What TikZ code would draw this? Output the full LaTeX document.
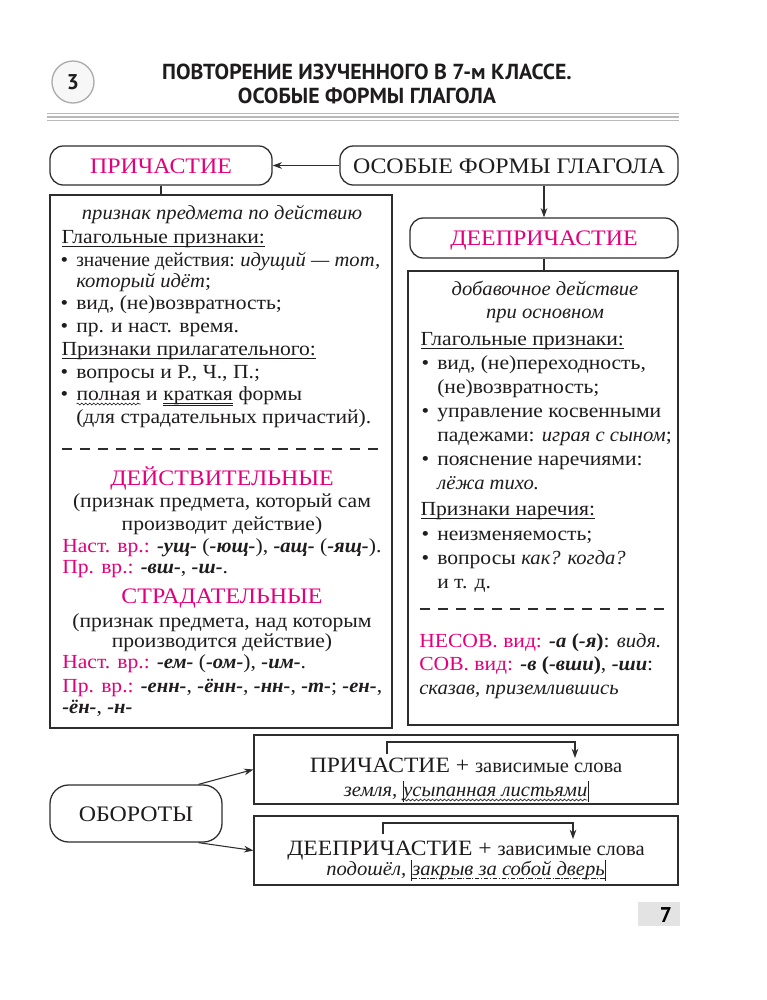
\documentclass[tikz,border=0pt]{standalone}
\usepackage{fontspec}
\setmainfont{Liberation Serif}[UprightFeatures={FakeStretch=1.08},BoldFeatures={FakeStretch=1.08},ItalicFeatures={FakeStretch=1.03},BoldItalicFeatures={FakeStretch=1.03}]
\newfontfamily\hdr{PT Sans}
\usetikzlibrary{arrows.meta,fit,decorations.pathmorphing}
\definecolor{pk}{RGB}{228,0,124}
\definecolor{ink}{RGB}{30,28,28}
\definecolor{lnc}{RGB}{45,45,45}
\newcommand\bt[1]{\textbf{\textit{#1}}}
\newcommand\bul{\llap{•\hspace{6pt}}}
\newcommand\phrbar{\rule[-4.5pt]{0.4pt}{16pt}}
\newcommand\ulx[2][]{\tikz[baseline=(u.base)]{\node[inner sep=0pt,outer sep=0pt,anchor=base] (u) at (0,0) {#2};
  \draw[draw=ink,line width=0.5pt,#1] ([yshift=-2.6pt]u.base west) -- ([yshift=-2.6pt]u.base east);}}
\newcommand\uwv[1]{\tikz[baseline=(u.base)]{\node[inner sep=0pt,outer sep=0pt,anchor=base] (u) at (0,0) {#1};
  \draw[draw=ink,line width=0.45pt,decorate,decoration={snake,amplitude=0.7pt,segment length=3pt}] ([yshift=-3pt]u.base west) -- ([yshift=-3pt]u.base east);}}
\newcommand\uul[1]{\tikz[baseline=(u.base)]{\node[inner sep=0pt,outer sep=0pt,anchor=base] (u) at (0,0) {#1};
  \draw[draw=ink,line width=0.45pt] ([yshift=-2.3pt]u.base west) -- ([yshift=-2.3pt]u.base east)
     ([yshift=-3.7pt]u.base west) -- ([yshift=-3.7pt]u.base east);}}
\begin{document}
\begin{tikzpicture}[x=0.75pt,y=-0.75pt,
  every node/.style={text=ink},
  bodyf/.style={font=\fontsize{15}{18}\selectfont},
  txt/.style={bodyf, anchor=base west, inner sep=0pt},
  ctxt/.style={bodyf, anchor=base, inner sep=0pt},
  head/.style={font=\fontsize{16.6}{18}\selectfont, anchor=base, inner sep=0pt},
  rbox/.style={draw=lnc, line width=0.95pt, rounded corners=10pt, inner sep=0pt},
  sbox/.style={draw=lnc, line width=0.95pt, inner sep=0pt},
  arr/.style={draw=lnc, line width=0.8pt, -{Stealth[length=7pt,width=5pt]}},
  conn/.style={draw=lnc, line width=0.8pt},
  dsh/.style={draw=lnc, line width=0.8pt, dash pattern=on 7.5pt off 6pt}]
\useasboundingbox (0,0) rectangle (767,1000);
\fill[white] (0,0) rectangle (767,1000);

% header
\node[circle, draw=gray!65, line width=1pt, fill=gray!6, minimum size=42*0.75pt, inner sep=0pt,
      font=\hdr\bfseries\fontsize{16}{16}\selectfont] (num) at (73,82) {3};
\node[anchor=base, inner sep=0pt, font=\hdr\bfseries\fontsize{16.3}{16}\selectfont] (t1) at (367,79) {ПОВТОРЕНИЕ ИЗУЧЕННОГО В 7-м КЛАССЕ.};
\node[anchor=base, inner sep=0pt, font=\hdr\bfseries\fontsize{16.3}{16}\selectfont] (t2) at (367,103) {ОСОБЫЕ ФОРМЫ ГЛАГОЛА};
\foreach \yy in {113.5,117,120.5}
  \draw[gray!55, line width=1.1pt] (47,\yy) -- (679,\yy);

% top boxes
\node[rbox, fit={(50,146)(272,185)}] (prich) {};
\node[head, text=pk] (prichT) at (prich.center |- 0,173) {ПРИЧАСТИЕ};
\node[rbox, fit={(340,146)(678,185)}] (osob) {};
\node[head] (osobT) at (osob.center |- 0,173) {ОСОБЫЕ ФОРМЫ ГЛАГОЛА};
\node[rbox, fit={(410,218)(678,258)}] (deepr) {};
\node[head, text=pk] (deeprT) at (deepr.center |- 0,245) {ДЕЕПРИЧАСТИЕ};
\node[sbox, fit={(50,195)(392,728)}] (lbox) {};
\node[sbox, fit={(408,271)(678,725)}] (rbox) {};

\draw[arr] (osob.west) -- (prich.east);
\draw[arr] (deepr.north |- osob.south) -- (deepr.north);
\draw[conn] (prich.south) -- (prich.south |- lbox.north);
\draw[conn] (deepr.south) -- (deepr.south |- rbox.north);

% left box
\node[ctxt] (l1) at (222,219) {\textit{признак предмета по действию}};
\node[txt] (l2) at (61,243) {\ulx{Глагольные признаки:}};
\node[txt] (l3) at (76,266) {\bul \scalebox{0.9}[1]{значение действия:} \textit{идущий — тот,}};
\node[txt] (l4) at (76,287) {\textit{который идёт};};
\node[txt] (l5) at (76,309) {\bul вид, (не)возвратность;};
\node[txt] (l6) at (76,332) {\bul пр. и наст. время.};
\node[txt] (l7) at (61,355) {\ulx{Признаки прилагательного:}};
\node[txt] (l8) at (76,378) {\bul вопросы и Р., Ч., П.;};
\node[txt] (l9) at (76,400) {\bul \uwv{полная} и \uul{краткая} формы};
\node[txt] (l10) at (76,423) {(для страдательных причастий).};
\coordinate (ld1) at (62,449);
\coordinate (ld2) at (384,449);
\draw[dsh] (ld1) -- (ld2);
\node[head, text=pk] (l11) at (222,485) {ДЕЙСТВИТЕЛЬНЫЕ};
\node[ctxt] (l12) at (222,507) {(признак предмета, который сам};
\node[ctxt] (l13) at (222,530) {производит действие)};
\node[txt] (l14) at (62,552) {\textcolor{pk}{Наст. вр.:} \bt{-ущ-} (\bt{-ющ-}), \bt{-ащ-} (\bt{-ящ-}).};
\node[txt] (l15) at (62,573) {\textcolor{pk}{Пр. вр.:} \bt{-вш-}, \bt{-ш-}.};
\node[head, text=pk] (l16) at (222,603) {СТРАДАТЕЛЬНЫЕ};
\node[ctxt] (l17) at (222,627) {(признак предмета, над которым};
\node[ctxt] (l18) at (222,647) {производится действие)};
\node[txt] (l19) at (62,668) {\textcolor{pk}{Наст. вр.:} \bt{-ем-} (\bt{-ом-}), \bt{-им-}.};
\node[txt] (l20) at (62,692) {\textcolor{pk}{Пр. вр.:} \bt{-енн-}, \bt{-ённ-}, \bt{-нн-}, \bt{-т-}; \bt{-ен-},};
\node[txt] (l21) at (62,713) {\bt{-ён-}, \bt{-н-}};

% right box
\node[ctxt] (r1) at (545,295) {\textit{добавочное действие}};
\node[ctxt] (r2) at (545,318) {\textit{при основном}};
\node[txt] (r3) at (420,345) {\ulx{Глагольные признаки:}};
\node[txt] (r4) at (437,369) {\bul вид, (не)переходность,};
\node[txt] (r5) at (437,393) {(не)возвратность;};
\node[txt] (r6) at (437,417) {\bul управление косвенными};
\node[txt] (r7) at (437,441) {падежами: \textit{играя с сыном};};
\node[txt] (r8) at (437,465) {\bul пояснение наречиями:};
\node[txt] (r9) at (437,489) {\textit{лёжа тихо.}};
\node[txt] (r10) at (420,515) {\ulx{Признаки наречия:}};
\node[txt] (r11) at (437,540) {\bul неизменяемость;};
\node[txt] (r12) at (437,564) {\bul вопросы \textit{как? когда?}};
\node[txt] (r13) at (437,588) {и т. д.};
\coordinate (rd1) at (420,609);
\coordinate (rd2) at (668,609);
\draw[dsh] (rd1) -- (rd2);
\node[txt] (r14) at (419,647) {\textcolor{pk}{НЕСОВ. вид:} \textbf{\textit{-а} (\textit{-я})}: \textit{видя.}};
\node[txt] (r15) at (419,670) {\textcolor{pk}{СОВ. вид:} \textbf{\textit{-в} (\textit{-вши})}, \bt{-ши}:};
\node[txt] (r16) at (419,694) {\textit{сказав, приземлившись}};

% bottom
\node[rbox, rounded corners=14pt, fit={(50,785)(222,842)}] (obor) {};
\node[head] (oborT) at (obor.center |- 0,821) {ОБОРОТЫ};
\node[sbox, fit={(254,735)(678,804)}] (b1) {};
\node[sbox, fit={(254,816)(678,885)}] (b2) {};
\draw[arr] (obor.25) -- (b1.west);
\draw[arr] (obor.-25) -- (b2.west);

\node[ctxt] (b1t) at (466,772) {\fontsize{16.4}{18}\selectfont ПРИЧАСТИЕ + \fontsize{15}{18}\selectfont\scalebox{0.95}[1]{зависимые слова}};
\node[ctxt] (b1e) at (466,796) {\textit{земля, \phrbar\uwv{усыпанная листьями}\phrbar}};
\coordinate (b1a) at (387,754);
\coordinate (b1b) at (575,758);
\draw[arr] (b1a) -- (387,742) -- (575,742) -- (b1b);

\node[ctxt] (b2t) at (466,855) {\fontsize{16.4}{18}\selectfont ДЕЕПРИЧАСТИЕ + \fontsize{15}{18}\selectfont\scalebox{0.95}[1]{зависимые слова}};
\node[ctxt] (b2e) at (466,875) {\textit{подошёл, \phrbar\ulx[dash pattern=on 3.5pt off 1.2pt on 0.8pt off 1.2pt]{закрыв за собой дверь}\phrbar}};
\coordinate (b2a) at (383,834);
\coordinate (b2b) at (573,839);
\draw[arr] (b2a) -- (383,823) -- (573,823) -- (b2b);

% page number
\node[fill=gray!22, inner sep=0pt, fit={(638,902)(680,926)}] (pg) {};
\node[anchor=base, inner sep=0pt, font=\hdr\bfseries\fontsize{16}{16}\selectfont, text=black] (pgn) at (666,922) {7};
\end{tikzpicture}
\end{document}
